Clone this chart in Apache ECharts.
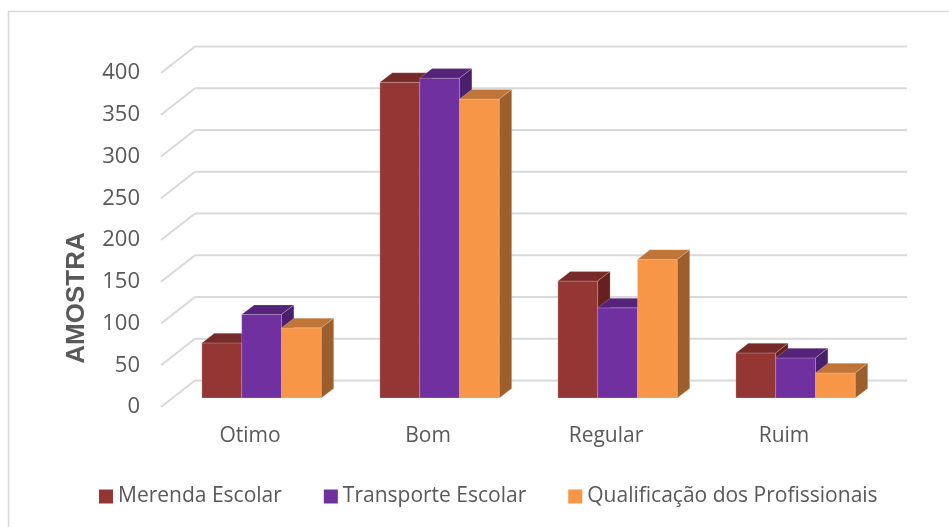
<!DOCTYPE html>
<html>
<head>
<meta charset="utf-8">
<script src="https://cdn.jsdelivr.net/npm/echarts@6/dist/echarts.min.js"></script>
<style>
  html, body { margin: 0; padding: 0; background: #ffffff; }
  #chart { width: 949px; height: 527px; }
</style>
</head>
<body>
<div id="chart"></div>
<script>
// Categories and survey counts per item
const categories = ['Otimo', 'Bom', 'Regular', 'Ruim'];
const merendaEscolar = [66, 378, 140, 54];
const transporteEscolar = [100, 383, 108, 48];
const qualificacaoProfissionais = [84, 358, 166, 30];
const yTicks = [0, 50, 100, 150, 200, 250, 300, 350, 400];

const seriesNames = ['Merenda Escolar', 'Transporte Escolar', 'Qualificação dos Profissionais'];
const seriesValues = [merendaEscolar, transporteEscolar, qualificacaoProfissionais];

// front, top, side shades for each series
const palette = [
  { front: '#943634', top: '#772b29', side: '#66211f' },
  { front: '#7030a0', top: '#55247a', side: '#4a1f6c' },
  { front: '#f79646', top: '#c07536', side: '#9c5f2b' }
];

// oblique projection: offset of the back wall from the front plane
const WALL_DX = 34, WALL_DY = -26.5;
// bar front face sits a little behind the front plane; bar depth
const FACE_DX = 11.6, FACE_DY = -9;
const DEPTH_DX = 12.4, DEPTH_DY = -9.6;
const BAR_RATIO = 0.2236;

const textColor = '#595959';
const fontFamily = '"Open Sans", "DejaVu Sans", sans-serif';

function wallRender(params, api) {
  const v = api.value(1);
  const p = api.coord([0, v]);
  const band = api.size([1, 0])[0];
  const left = p[0] - band / 2;
  const right = left + band * categories.length;
  const style = { stroke: '#d9d9d9', lineWidth: 2, fill: null };
  return {
    type: 'group',
    children: [
      { type: 'line', shape: { x1: left, y1: p[1], x2: left + WALL_DX, y2: p[1] + WALL_DY }, style: style },
      { type: 'line', shape: { x1: left + WALL_DX, y1: p[1] + WALL_DY, x2: right + WALL_DX, y2: p[1] + WALL_DY }, style: style }
    ]
  };
}

function barRender(idx) {
  const c = palette[idx];
  return function (params, api) {
    const cat = api.value(0);
    const val = api.value(1);
    const base = api.coord([cat, 0]);
    const top = api.coord([cat, val]);
    const band = api.size([1, 0])[0];
    const w = band * BAR_RATIO;
    const x0 = base[0] - 1.5 * w + idx * w + FACE_DX;
    const x1 = x0 + w;
    const yb = base[1] + FACE_DY;
    const yt = top[1] + FACE_DY;
    const edge = 'rgba(255,235,230,0.35)';
    return {
      type: 'group',
      children: [
        { type: 'polygon', shape: { points: [[x0, yt], [x1, yt], [x1, yb], [x0, yb]] },
          style: { fill: c.front, stroke: edge, lineWidth: 0.6 } },
        { type: 'polygon', shape: { points: [[x0, yt], [x1, yt], [x1 + DEPTH_DX, yt + DEPTH_DY], [x0 + DEPTH_DX, yt + DEPTH_DY]] },
          style: { fill: c.top, stroke: edge, lineWidth: 0.6 } },
        { type: 'polygon', shape: { points: [[x1, yt], [x1 + DEPTH_DX, yt + DEPTH_DY], [x1 + DEPTH_DX, yb + DEPTH_DY], [x1, yb]] },
          style: { fill: c.side, stroke: edge, lineWidth: 0.6 } }
      ]
    };
  };
}

const series = [{
  type: 'custom',
  silent: true,
  z: 1,
  renderItem: wallRender,
  data: yTicks.map(function (t) { return [0, t]; })
}];

seriesNames.forEach(function (name, i) {
  series.push({
    name: name,
    type: 'custom',
    z: 2 + i,
    itemStyle: { color: palette[i].front },
    renderItem: barRender(i),
    data: seriesValues[i].map(function (v, k) { return [k, v]; })
  });
});

const chart = echarts.init(document.getElementById('chart'), null, { renderer: 'canvas' });
chart.setOption({
  animation: false,
  backgroundColor: '#ffffff',
  graphic: [{
    type: 'rect',
    shape: { x: 8.5, y: 11.5, width: 1000, height: 600 },
    style: { fill: null, stroke: '#d9d9d9', lineWidth: 1.5 },
    z: 0
  }, {
    // vertical axis title
    type: 'text',
    x: 77,
    y: 298,
    rotation: Math.PI / 2,
    style: {
      text: 'AMOSTRA',
      fill: textColor,
      font: 'bold 26px "Liberation Sans", Arial, sans-serif',
      align: 'center',
      verticalAlign: 'middle'
    },
    z: 5
  }],
  grid: { left: 161, right: 76, top: 73, bottom: 120 },
  xAxis: {
    type: 'category',
    data: categories,
    axisLine: { show: false },
    axisTick: { show: false },
    splitLine: { show: false },
    axisLabel: { color: textColor, fontSize: 21, fontFamily: fontFamily, margin: 19 }
  },
  yAxis: {
    type: 'value',
    min: 0,
    max: 400,
    interval: 50,
    axisLine: { show: false },
    axisTick: { show: false },
    splitLine: { show: false },
    axisLabel: { color: textColor, fontSize: 22, fontFamily: fontFamily, margin: 21 }
  },
  legend: {
    data: seriesNames,
    left: 99,
    top: 486,
    padding: 0,
    icon: 'rect',
    itemWidth: 14,
    itemHeight: 14,
    itemGap: 42,
    textStyle: { color: textColor, fontSize: 21, fontFamily: fontFamily }
  },
  series: series
});
</script>
</body>
</html>
